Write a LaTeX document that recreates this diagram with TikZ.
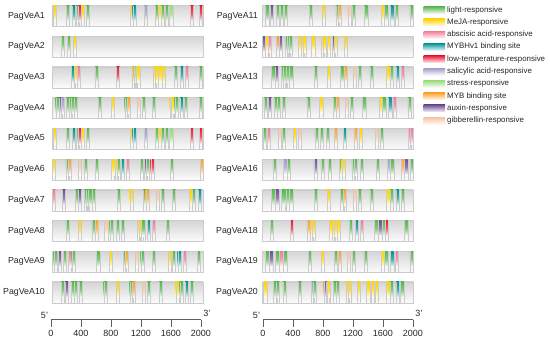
\documentclass[tikz,border=0pt]{standalone}
\usepackage{fontspec}
\setmainfont{Liberation Sans}
\definecolor{cL}{RGB}{88,184,78}
\definecolor{cM}{RGB}{255,212,0}
\definecolor{cA}{RGB}{242,122,152}
\definecolor{cH}{RGB}{0,150,150}
\definecolor{cT}{RGB}{236,28,58}
\definecolor{cS}{RGB}{160,158,200}
\definecolor{cSt}{RGB}{150,220,120}
\definecolor{cB}{RGB}{255,160,40}
\definecolor{cX}{RGB}{112,80,152}
\definecolor{cG}{RGB}{250,195,160}
\tikzset{
  genelabel/.style={font=\fontsize{8.8}{10}\selectfont, text=black!85, anchor=east, inner sep=0pt},
  barbody/.style={top color=gray!33, bottom color=gray!3, draw=gray!40, line width=0.3pt},
  motifedge/.style={draw=gray!40, line width=0.3pt},
  legendsw/.style={draw=none},
  legendtext/.style={font=\fontsize{7.9}{9}\selectfont, text=black!85, anchor=west, inner sep=0pt},
  axisline/.style={draw=gray!75!black, line width=0.5pt},
  axislabel/.style={font=\fontsize{9}{10}\selectfont, text=black!85, inner sep=0pt},
  primelabel/.style={font=\fontsize{9}{10}\selectfont, text=black!85, inner sep=0pt}
}
\newcommand{\gene}[5]{%
  \node[genelabel] (#1) at (#2,#4) {#1};
  \path[barbody] (#3,#4-10.5) rectangle (#3+151,#4+10.5);
  \foreach \p/\c in {#5}{%
    \path[top color=\c, bottom color=white, middle color=\c!75]
      ({#3+\p*0.0755-1.6},#4-10.5) rectangle ++(3.2,16);
    \draw[motifedge] ({#3+\p*0.0755-1.6},#4-10.5) -- ++(0,21)
      ({#3+\p*0.0755+1.6},#4-10.5) -- ++(0,21);
  }%
}
\begin{document}
\begin{tikzpicture}[x=1pt,y=-1pt]
\useasboundingbox (0,0) rectangle (550,340);
% left column
\gene{PagVeA1}{45}{52}{16}{36/cM,212/cL,288/cH,338/cL,368/cT,408/cM,474/cL,1056/cM,1090/cH,1242/cS,1388/cL,1424/cM,1468/cL,1522/cL,1578/cSt,1854/cT,1974/cT}
\gene{PagVeA2}{45}{52}{46.7}{142/cL,222/cL,302/cM}
\gene{PagVeA3}{45}{52}{77.4}{280/cH,314/cM,350/cA,590/cL,874/cT,1078/cB,1110/cSt,1140/cM,1356/cM,1388/cM,1432/cM,1476/cM,1640/cL,1720/cH,1788/cA,1974/cL}
\gene{PagVeA4}{45}{52}{108.1}{70/cL,114/cX,140/cS,212/cL,248/cL,274/cL,318/cL,632/cL,808/cM,984/cL,1020/cB,1148/cG,1214/cL,1350/cL,1580/cM,1600/cM,1646/cL,1714/cH,1770/cL,1970/cL}
\gene{PagVeA5}{45}{52}{138.8}{36/cM,212/cL,288/cH,338/cL,368/cT,408/cM,474/cL,1056/cM,1090/cH,1242/cS,1388/cL,1424/cM,1468/cL,1522/cL,1578/cSt,1854/cT,1974/cT}
\gene{PagVeA6}{45}{52}{169.5}{26/cM,204/cL,238/cB,366/cG,442/cL,596/cL,808/cM,852/cM,880/cL,940/cH,1006/cA,1192/cL,1240/cX,1272/cL,1328/cT,1590/cL,1986/cB}
\gene{PagVeA7}{45}{52}{200.2}{26/cA,158/cX,326/cL,370/cX,450/cL,476/cL,504/cL,556/cL,884/cL,1050/cM,1228/cL,1262/cB,1396/cG,1466/cL,1616/cL,1836/cM,1880/cL,1956/cH}
\gene{PagVeA8}{45}{52}{230.9}{204/cL,370/cM,548/cL,588/cB,716/cG,786/cL,866/cL,940/cL,1152/cM,1180/cM,1206/cL,1280/cH,1350/cA,1536/cL}
\gene{PagVeA9}{45}{52}{261.6}{44/cL,98/cX,168/cL,230/cA,282/cL,610/cL,778/cM,962/cL,994/cB,1126/cG,1196/cL,1350/cL,1562/cM,1608/cL,1686/cH,1758/cA,1942/cL}
\gene{PagVeA10}{45}{52}{292.3}{142/cL,194/cX,274/cL,318/cL,380/cL,706/cL,874/cM,1050/cL,1086/cB,1218/cG,1284/cL,1440/cL,1660/cM,1712/cL,1784/cH,1854/cL}
% right column
\gene{PagVeA11}{258}{262.5}{16}{62/cL,124/cX,204/cL,256/cL,310/cL,638/cL,806/cM,992/cL,1026/cB,1150/cG,1212/cL,1372/cL,1592/cM,1638/cL,1716/cH,1778/cL,1974/cL}
\gene{PagVeA12}{258}{262.5}{46.7}{18/cX,62/cM,98/cA,204/cB,238/cX,318/cL,346/cL,372/cL,496/cM,530/cM,558/cM,672/cM,796/cM,824/cM,876/cM,946/cX,974/cM,1098/cM}
\gene{PagVeA13}{258}{262.5}{77.4}{142/cL,186/cX,274/cL,300/cL,328/cL,380/cL,708/cL,876/cM,1054/cL,1098/cB,1222/cG,1292/cL,1442/cL,1664/cM,1708/cL,1788/cH,1858/cA}
\gene{PagVeA14}{258}{262.5}{108.1}{44/cL,98/cX,176/cL,212/cL,284/cL,610/cL,778/cM,956/cL,992/cB,1116/cG,1186/cL,1346/cL,1566/cM,1610/cL,1690/cH,1752/cA,1946/cL}
\gene{PagVeA15}{258}{262.5}{138.8}{26/cL,80/cA,230/cG,284/cL,424/cM,496/cG,716/cL,788/cL,868/cL,974/cB,1088/cH,1230/cB,1300/cM,1514/cG,1576/cL,1950/cA,1972/cA}
\gene{PagVeA16}{258}{262.5}{169.5}{160/cL,300/cS,346/cL,700/cX,796/cL,894/cL,1036/cL,1070/cM,1204/cL,1238/cL,1318/cL,1530/cL,1672/cS,1716/cL,1858/cB,1902/cX,1974/cL}
\gene{PagVeA17}{258}{262.5}{200.2}{142/cL,194/cX,274/cL,328/cL,380/cL,708/cL,876/cM,1054/cL,1090/cB,1222/cG,1292/cL,1442/cL,1664/cM,1708/cL,1788/cH,1858/cL}
\gene{PagVeA18}{258}{262.5}{230.9}{124/cL,390/cT,610/cB,654/cM,682/cM,902/cM,938/cM,974/cM,1008/cM,1168/cL,1248/cH,1318/cA,1504/cL,1558/cX,1602/cL,1646/cT,1902/cL}
\gene{PagVeA19}{258}{262.5}{261.6}{62/cL,115/cX,195/cL,248/cA,301/cL,628/cL,796/cM,973/cL,1018/cB,1142/cG,1212/cL,1363/cL,1593/cM,1637/cL,1717/cH,1779/cA,1973/cL}
\gene{PagVeA20}{258}{262.5}{292.3}{35/cM,168/cL,204/cL,292/cL,496/cL,664/cS,690/cL,832/cB,858/cX,876/cM,956/cL,991/cL,1124/cM,1150/cM,1274/cM,1398/cM,1460/cM,1513/cM,1664/cM,1708/cL,1788/cH,1850/cL}
% legend
\foreach \c/\t [count=\i from 0] in {cL/light-responsive,cM/MeJA-responsive,cA/abscisic acid-responsive,cH/MYBHv1 binding site,cT/low-temperature-responsive,cS/salicylic acid-responsive,cSt/stress-responsive,cB/MYB binding site,cX/auxin-responsive,cG/gibberellin-responsive}{%
  \path[legendsw, top color=\c, bottom color=\c!8] (423.5,{6.5+12.3*\i}) rectangle ++(21.5,7);
  \node[legendtext] (lg\i) at (447,{10+12.3*\i}) {\t};
}
% axes
\foreach \x/\s in {51/L,263/R}{%
  \coordinate (ax\s a) at (\x,319.5);
  \coordinate (ax\s b) at (\x+150,319.5);
  \draw[axisline] (ax\s a) -- (ax\s b);
  \foreach \v [count=\i from 0] in {0,400,...,2000}{%
    \coordinate (tk\s\i) at ({\x+\v*0.075},319.5);
    \draw[axisline] (tk\s\i) -- ++(0,7.5);
    \node[axislabel] (al\s\i) at ({\x+\v*0.075},333) {\v};
  }
  \node[primelabel] (five\s) at (\x-6.5,315) {5'};
  \node[primelabel] (three\s) at (\x+156,313.5) {3'};
}
\end{tikzpicture}
\end{document}
